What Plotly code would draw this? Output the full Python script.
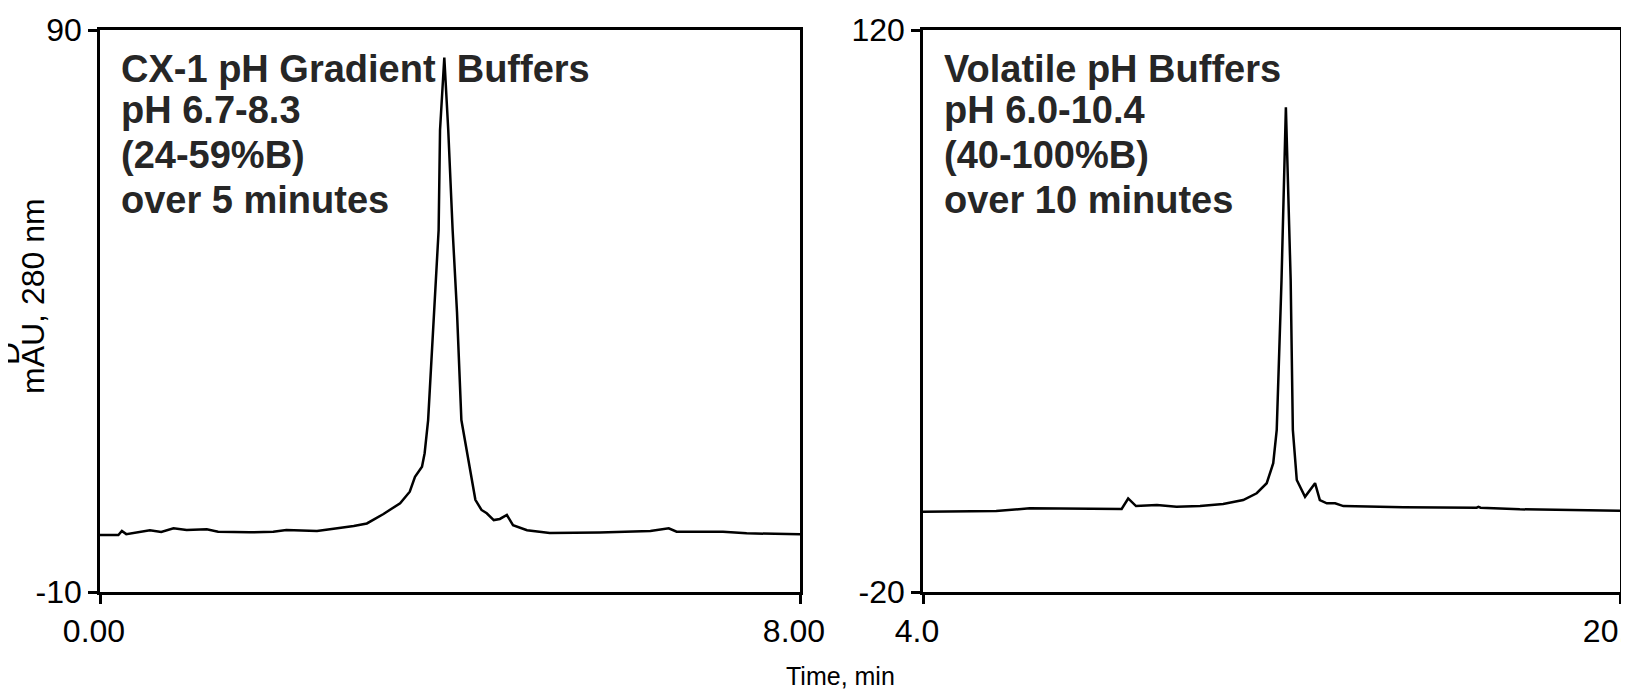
import plotly.graph_objects as go

# left chromatogram: CX-1 pH gradient buffers
time_left = [0, 0.21, 0.25, 0.3, 0.57, 0.7, 0.84, 0.99, 1.22, 1.35, 1.71, 1.98, 2.13, 2.48,
             2.67, 2.9, 3.05, 3.24, 3.43, 3.54, 3.6, 3.68, 3.71, 3.75, 3.87, 3.886, 3.935,
             3.98, 4.03, 4.08, 4.13, 4.17, 4.29, 4.36, 4.42, 4.5, 4.57, 4.65, 4.72, 4.88,
             5.14, 5.71, 6.29, 6.5, 6.59, 7.12, 7.39, 8.0]
mau_left = [0.14, 0.14, 0.85, 0.3, 1.0, 0.68, 1.33, 1.03, 1.15, 0.73, 0.62, 0.73, 1.03, 0.85,
            1.26, 1.74, 2.2, 3.88, 5.8, 7.85, 10.5, 12.3, 14.7, 20.6, 54.4, 72.2, 85.1,
            72.2, 54.4, 39.8, 20.6, 17.0, 6.4, 4.6, 4.0, 2.8, 3.0, 3.7, 1.9, 1.0,
            0.5, 0.6, 0.85, 1.33, 0.73, 0.73, 0.44, 0.27]

# right chromatogram: volatile pH buffers
time_right = [4, 5.68, 6.45, 8.56, 8.71, 8.89, 9.37, 9.82, 10.36, 10.89, 11.35, 11.66, 11.89,
              12.04, 12.12, 12.23, 12.33, 12.44, 12.49, 12.58, 12.77, 13.0, 13.11, 13.27,
              13.46, 13.65, 15.03, 16.71, 16.75, 16.8, 17.7, 20]
mau_right = [0.0, 0.18, 0.85, 0.68, 3.3, 1.4, 1.7, 1.25, 1.4, 1.9, 2.9, 4.6, 7.1,
             12.1, 20.4, 57.7, 100.75, 57.7, 20.4, 7.9, 3.7, 7.1, 2.9, 2.1,
             2.1, 1.4, 1.1, 1.0, 1.2, 1.0, 0.6, 0.25]

# tick labels (hyphen minus, as in the original)
xticks_left, xlabels_left = [0, 8], ["0.00", "8.00"]
yticks_left, ylabels_left = [-10, 90], ["-10", "90"]
xticks_right, xlabels_right = [4, 20], ["4.0", "20.0"]
yticks_right, ylabels_right = [-20, 120], ["-20", "120"]

label_left = ["CX-1 pH Gradient&nbsp; Buffers", "pH 6.7-8.3", "(24-59%B)", "over 5 minutes"]
label_right = ["Volatile pH Buffers", "pH 6.0-10.4", "(40-100%B)", "over 10 minutes"]

# the page body has an 8px margin, so the figure is placed at (8, 8)
OFF = 8
W, H = 1629 - OFF, 691 - OFF
ML, MR, MT, MB = 100 - OFF, 9, 30 - OFF, 99
PW, PH = W - ML - MR, H - MT - MB


def px(x):
    # page pixel -> paper coordinate
    return (x - OFF - ML) / PW


def py(y):
    return (H - MB - (y - OFF)) / PH


FONT = "Liberation Sans, Arial, sans-serif"

fig = go.Figure()
fig.add_trace(go.Scatter(x=time_left, y=mau_left, mode="lines",
                         line=dict(color="black", width=2.5), xaxis="x", yaxis="y"))
fig.add_trace(go.Scatter(x=time_right, y=mau_right, mode="lines",
                         line=dict(color="black", width=2.5), xaxis="x2", yaxis="y2"))

axis_style = dict(showgrid=False, zeroline=False, showline=True, linecolor="black",
                  linewidth=2.5, mirror=True, ticks="outside", ticklen=9, tickwidth=2.5,
                  tickcolor="black", automargin=False, ticklabeloverflow="allow",
                  tickfont=dict(family=FONT, size=32, color="black"))

fig.update_layout(
    width=W, height=H, autosize=False,
    margin=dict(l=ML, r=MR, t=MT, b=MB, autoexpand=False),
    paper_bgcolor="white", plot_bgcolor="white",
    showlegend=False,
    xaxis=dict(domain=[0, px(800)], range=[0, 8], tickvals=xticks_left, ticktext=xlabels_left,
               anchor="y", ticklabelshift=-6, **axis_style),
    yaxis=dict(domain=[0, 1], range=[-10, 90], tickvals=yticks_left, ticktext=ylabels_left,
               anchor="x", **axis_style),
    xaxis2=dict(domain=[px(923), 1], range=[4, 20], tickvals=xticks_right, ticktext=xlabels_right,
                anchor="y2", ticklabelshift=-6, **axis_style),
    yaxis2=dict(domain=[0, 1], range=[-20, 120], tickvals=yticks_right, ticktext=ylabels_right,
                anchor="x2", **axis_style),
)

line_y = [68.6, 110, 155, 199.5]
for txt, yy in zip(label_left, line_y):
    fig.add_annotation(text="<b>" + txt + "</b>", x=px(119), y=py(yy), xref="paper", yref="paper",
                       xanchor="left", yanchor="middle", showarrow=False,
                       font=dict(family=FONT, size=38, color="#262626"))
for txt, yy in zip(label_right, line_y):
    fig.add_annotation(text="<b>" + txt + "</b>", x=px(942), y=py(yy), xref="paper", yref="paper",
                       xanchor="left", yanchor="middle", showarrow=False,
                       font=dict(family=FONT, size=38, color="#262626"))

fig.add_annotation(text="mAU, 280 nm", x=px(33), y=py(296), xref="paper", yref="paper",
                   textangle=-90, showarrow=False, xanchor="center", yanchor="middle",
                   font=dict(family=FONT, size=32, color="black"))
fig.add_annotation(text="D", x=px(8), y=py(354), xref="paper", yref="paper",
                   textangle=-90, showarrow=False, xanchor="center", yanchor="middle",
                   font=dict(family=FONT, size=32, color="black"))
fig.add_annotation(text="Time, min", x=px(840), y=py(676), xref="paper", yref="paper",
                   showarrow=False, xanchor="center", yanchor="middle",
                   font=dict(family=FONT, size=25, color="black"))

fig.write_html("out.html")
